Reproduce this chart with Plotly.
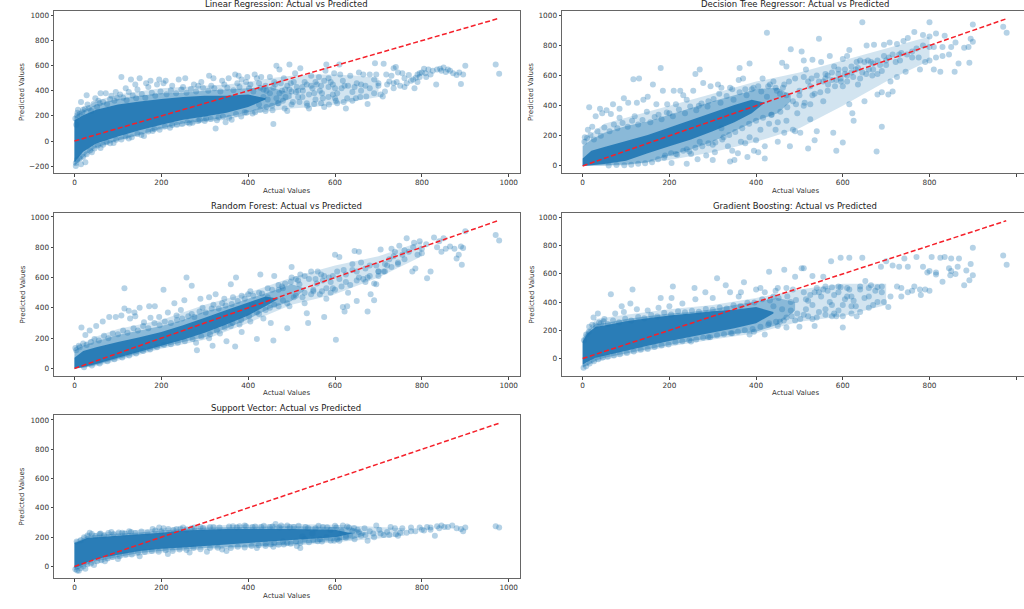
import plotly.graph_objects as go

W, H = 1024, 609
BLUE = "#1f77b4"
titles = ["Linear Regression: Actual vs Predicted", "Decision Tree Regressor: Actual vs Predicted",
          "Random Forest: Actual vs Predicted", "Gradient Boosting: Actual vs Predicted",
          "Support Vector: Actual vs Predicted"]
x_ticks = [0, 200, 400, 600, 800, 1000]
y_ticks_lr = [-200, 0, 200, 400, 600, 800, 1000]
y_ticks = [0, 200, 400, 600, 800, 1000]
ideal_line = [0, 977]

# Faint extent of each cloud: x, low, high
lr_cloud_x = [0, 50, 100, 200, 300, 350, 400, 450, 500, 550, 600, 650, 700]
lr_cloud_lo = [-200, -60, 0, 90, 150, 170, 210, 240, 260, 270, 290, 320, 350]
lr_cloud_hi = [205, 320, 370, 420, 440, 450, 470, 500, 520, 530, 530, 520, 500]
dt_cloud_x = [0, 50, 100, 200, 300, 400, 500, 600, 700, 800]
dt_cloud_lo = [0, 0, 5, 40, 90, 160, 250, 400, 560, 700]
dt_cloud_hi = [170, 280, 320, 400, 480, 560, 620, 700, 780, 860]
rf_cloud_x = [0, 50, 100, 200, 300, 400, 500, 600, 700, 800]
rf_cloud_lo = [0, 15, 50, 130, 190, 300, 420, 490, 600, 740]
rf_cloud_hi = [140, 210, 260, 320, 420, 500, 600, 680, 740, 840]
gb_cloud_x = [0, 30, 100, 200, 300, 400, 500, 600, 700]
gb_cloud_lo = [-65, -25, 25, 85, 135, 180, 260, 300, 380]
gb_cloud_hi = [160, 280, 310, 350, 380, 430, 490, 530, 530]
sv_cloud_x = [0, 30, 100, 200, 300, 400, 500, 600, 700, 760]
sv_cloud_lo = [-30, 5, 55, 95, 115, 125, 140, 165, 190, 210]
sv_cloud_hi = [175, 225, 240, 260, 280, 285, 290, 285, 270, 260]

# Dense regions of each cloud, read as envelopes: x, outer low/high, inner low/high
lr_band_x = [0, 10, 30, 50, 100, 150, 200, 250, 300, 350, 400, 450, 500]
lr_out_lo = [-195, -165, -95, -50, 5, 50, 100, 140, 160, 190, 230, 270, 340]
lr_out_hi = [195, 220, 260, 290, 335, 360, 380, 385, 400, 410, 420, 430, 380]
lr_in_x = [0, 20, 50, 100, 150, 200, 250, 300, 350, 400, 440]
lr_in_lo = [-170, -85, -20, 35, 85, 130, 170, 195, 225, 270, 330]
lr_in_hi = [165, 205, 250, 290, 315, 335, 350, 360, 360, 370, 340]

dt_band_x = [0, 20, 50, 100, 150, 200, 250, 300, 350, 400, 450, 480]
dt_out_lo = [0, 2, 5, 10, 25, 70, 110, 160, 230, 300, 350, 430]
dt_out_hi = [130, 175, 220, 265, 295, 340, 385, 430, 470, 510, 520, 470]
dt_in_x = [0, 20, 50, 100, 150, 200, 250, 300, 350, 390, 420]
dt_in_lo = [0, 5, 12, 35, 85, 130, 175, 230, 290, 350, 420]
dt_in_hi = [50, 100, 125, 165, 205, 255, 305, 355, 405, 440, 420]

rf_band_x = [0, 20, 50, 100, 150, 200, 250, 300, 350, 400, 450, 500, 530]
rf_out_lo = [0, 5, 22, 62, 100, 140, 175, 205, 265, 325, 395, 445, 520]
rf_out_hi = [120, 150, 180, 220, 250, 280, 320, 375, 410, 460, 505, 555, 530]
rf_in_x = [0, 20, 50, 100, 150, 200, 250, 300, 350, 400, 440, 470]
rf_in_lo = [0, 10, 30, 70, 110, 150, 190, 235, 290, 350, 410, 460]
rf_in_hi = [70, 115, 140, 175, 205, 240, 285, 335, 385, 435, 475, 460]

gb_band_x = [0, 10, 30, 50, 100, 150, 200, 250, 300, 350, 400, 450, 490]
gb_out_lo = [-60, -50, -15, 5, 35, 65, 95, 125, 145, 175, 190, 240, 340]
gb_out_hi = [140, 190, 245, 250, 280, 300, 320, 330, 350, 380, 405, 430, 400]
gb_in_x = [0, 10, 30, 50, 100, 150, 200, 250, 300, 350, 400, 440]
gb_in_lo = [-45, -25, 5, 20, 55, 90, 125, 155, 185, 215, 250, 320]
gb_in_hi = [120, 175, 225, 235, 265, 285, 305, 320, 335, 345, 365, 330]

sv_band_x = [0, 10, 30, 50, 100, 150, 200, 250, 300, 400, 500, 600, 640, 670]
sv_out_lo = [-25, -15, 15, 35, 65, 92, 105, 115, 125, 135, 150, 175, 185, 215]
sv_out_hi = [165, 175, 210, 215, 225, 232, 245, 255, 265, 270, 275, 270, 265, 230]
sv_in_x = [0, 10, 30, 50, 100, 150, 200, 250, 300, 350, 400, 500, 600, 640]
sv_in_lo = [-10, 0, 30, 50, 80, 105, 120, 130, 140, 150, 160, 180, 200, 225]
sv_in_hi = [160, 170, 195, 200, 210, 220, 230, 245, 250, 255, 255, 255, 250, 225]

# Individually visible points: (actual, predicted)
lr_points = [(970,610),(978,535),(900,600),(890,455),(895,530),(880,525),(886,545),(872,540),(860,570),(865,560),(850,585),(842,575),(835,570),(825,560),(833,450),(815,570),(805,575),(808,540),(800,545),(795,510),(790,530),(786,505),(783,420),(775,480),(770,525),(760,500),(755,540),(745,545),(735,580),(740,590),(730,520),(742,470),(712,615),(692,620),(725,475),(718,530),(710,355),(705,370),(700,440),(695,530),(690,490),(680,530),(675,295),(670,440),(665,530),(660,400),(655,545),(650,460),(648,340),(640,390),(635,520),(625,260),(628,340),(622,440),(618,480),(610,610),(612,530),(605,300),(600,420),(598,540),(595,370),(590,470),(585,500),(580,610),(578,560),(575,270),(572,340),(568,440),(563,510),(558,450),(552,380),(548,420),(545,520),(540,260),(535,300),(530,470),(526,400),(520,580),(515,350),(512,430),(508,540),(503,310),(498,460),(495,610),(490,240),(486,350),(482,500),(478,400),(472,570),(468,300),(465,600),(462,450),(458,135),(455,280),(450,510),(445,330),(440,240),(435,410),(430,510),(425,290),(420,500),(415,530),(410,220),(405,450),(398,510),(392,230),(385,490),(378,520),(370,530),(362,170),(355,500),(348,150),(340,480),(325,100),(332,190),(320,500),(310,520),(303,180),(292,470),(285,160),(275,450),(265,140),(255,500),(240,490),(225,130),(210,480),(195,490),(180,80),(175,480),(165,460),(150,500),(140,450),(130,490),(118,420),(108,510),(95,390),(85,360),(72,380),(60,380),(48,340),(28,365),(15,310),(20,250),(8,250),(6,205),(25,-170),(15,-185),(3,-200),(40,-90),(60,-55),(90,-15),(125,20),(160,40),(30,290),(55,320),(105,370),(125,390),(145,410),(170,430),(190,450),(205,460),(225,440),(250,430),(285,440),(315,440),(345,450),(375,460),(395,470),(425,460),(440,440),(460,470),(475,460),(490,440),(505,470),(515,400),(525,430),(535,450),(545,440),(555,470),(565,400),(575,480),(585,430),(595,450),(605,380),(615,420),(630,440),(645,430),(660,450),(680,420),(700,460),(720,450),(735,460),(750,440),(765,460),(780,490),(795,540),(810,510),(820,530),(845,560),(855,550),(435,350),(450,380),(465,340),(480,320),(495,410),(510,390),(525,350),(540,370),(555,330),(570,380),(585,350),(600,340),
(2,180),(4,130),(7,225),(12,215),(18,230),(24,255),(33,262),(38,240),(44,295),(52,270),(58,300),(66,310),(75,295),(82,335),(92,320),(98,345),(112,345),(120,325),(134,362),(142,340),(155,375),(163,345),(178,385),(186,360),(198,395),(212,372),(222,405),(234,380),(246,410),(258,385),(268,415),(280,395),(296,425),(308,400),(322,420),(336,395),(352,425),(366,405),(380,430),(402,420),(412,395),(428,425),(442,400),(458,425),(472,380),(485,410),(500,395),
(3,-175),(6,-150),(12,-140),(20,-125),(28,-105),(36,-75),(46,-60),(54,-35),(66,-30),(74,-10),(82,-18),(96,10),(108,12),(118,35),(132,30),(145,55),(154,48),(170,75),(184,95),(196,90),(208,115),(220,105),(236,130),(248,135),(260,150),(272,145),(288,170),(300,160),(314,175),(328,165),(342,195),(356,185),(372,215),(384,195),(396,225),(416,230),(428,250),(442,270),(456,245),(470,300),(484,260),(500,290),(518,310),(536,280),(552,295),(568,300),(586,290),(602,320),(620,310),(640,320),(658,350),(672,355),(690,380),(715,395),(735,420),(760,430),(790,470)]

dt_points = [(970,925),(978,885),(900,940),(895,845),(900,825),(892,685),(890,790),(880,785),(867,680),(860,820),(858,625),(850,790),(845,740),(835,865),(830,790),(825,625),(830,730),(815,880),(815,720),(810,640),(800,955),(800,860),(800,790),(800,700),(790,690),(785,800),(785,870),(778,640),(765,890),(760,760),(750,850),(745,625),(740,830),(735,750),(725,810),(725,590),(715,495),(710,560),(708,820),(705,475),(700,700),(695,805),(690,490),(690,260),(680,475),(678,95),(672,805),(670,680),(660,640),(655,800),(650,430),(645,955),(640,700),(635,540),(630,640),(625,300),(622,350),(615,770),(615,410),(610,730),(605,640),(600,710),(600,155),(595,580),(590,640),(585,100),(580,660),(578,220),(570,730),(565,500),(560,610),(555,430),(550,690),(545,845),(540,230),(535,170),(530,705),(528,580),(525,310),(520,115),(515,640),(510,700),(505,760),(502,220),(500,500),(495,350),(490,580),(485,240),(480,775),(478,130),(470,660),(465,220),(460,685),(455,480),(450,160),(445,240),(440,560),(435,340),(428,530),(425,885),(420,50),(420,130),(415,580),(405,90),(400,170),(395,100),(390,510),(385,680),(380,60),(375,150),(370,580),(362,650),(360,570),(358,85),(350,40),(345,510),(340,30),(335,130),(325,190),(320,520),(312,540),(305,90),(300,40),(295,530),(285,70),(278,550),(270,640),(265,45),(260,610),(255,500),(250,80),(240,15),(232,470),(225,500),(210,500),(205,20),(195,410),(180,650),(185,500),(170,410),(162,540),(150,460),(140,440),(130,580),(125,420),(117,575),(105,420),(95,450),(85,380),(70,410),(55,370),(40,380),(15,390),(30,330),(5,190),(12,240),(22,260),(45,350),(65,345),(85,320),(120,330),(148,360),(175,340),(200,350),(215,410),(240,440),(268,400),(290,430),(315,480),(340,520),(375,510),(405,530),(425,460),(445,520),(465,540),(470,470),(485,430),(500,470),(510,590),(525,530),(535,480),(545,560),(555,560),(565,600),(575,620),(585,570),(600,530),(610,600),(620,660),(632,690),(645,620),(658,700),(668,600),(680,610),(690,630),(700,670),(715,740),(722,690),(732,700),(748,740),(770,780),(345,100),(365,160),(385,190),(410,240),(430,280),(450,290),(470,300),(490,230),(510,400),(525,410),(300,140),(320,250),(270,160),(240,110),(215,80),(190,70),
(4,160),(10,185),(18,205),(26,175),(34,230),(42,200),(50,255),(62,230),(72,275),(80,250),(92,285),(104,260),(114,300),(128,275),(138,305),(156,290),(166,325),(182,310),(194,355),(208,330),(222,375),(236,350),(248,395),(262,370),(274,415),(288,395),(302,445),(318,420),(332,465),(348,440),(362,490),(378,470),(394,520),(412,495),(432,540),(448,500),(462,520),(476,560),
(60,2),(78,6),(96,4),(112,8),(128,14),(144,18),(160,24),(174,45),(188,55),(204,85),(218,75),(232,100),(246,95),(260,120),(276,130),(290,150),(306,155),(322,175),(338,205),(352,225),(368,250),(384,280),(400,300),(416,320),(436,340),(456,360),(472,390),(492,410),(512,420),(530,470),(548,490),(566,540),(582,530),(596,560),(610,560),(624,590),(640,580),(654,610),(670,640),(686,670),(706,720),(730,740),(775,720),(810,790),(760,720),(520,560),(540,600),(560,580),(575,570),(590,610),(605,610),(620,620),(635,650),(650,690),(665,690),(680,700),(695,730)]

rf_points = [(970,880),(978,845),(900,905),(895,795),(890,805),(892,685),(885,750),(880,725),(875,790),(865,805),(855,790),(850,860),(845,770),(835,800),(828,865),(820,640),(812,595),(800,790),(800,760),(795,840),(790,750),(785,660),(782,830),(778,640),(770,770),(765,860),(755,750),(748,810),(745,690),(738,770),(730,790),(725,720),(720,680),(712,640),(705,785),(700,610),(695,555),(690,450),(680,610),(682,490),(675,375),(670,660),(665,590),(655,770),(650,445),(645,775),(640,650),(635,550),(628,410),(622,375),(618,405),(610,735),(600,750),(602,190),(595,610),(590,500),(580,460),(575,340),(568,620),(558,560),(550,510),(538,300),(535,365),(530,430),(520,620),(510,590),(500,670),(495,410),(490,265),(480,530),(470,550),(460,610),(458,185),(452,300),(445,470),(435,330),(428,620),(420,195),(410,420),(400,490),(385,240),(372,600),(370,145),(360,555),(350,180),(345,460),(325,490),(318,150),(310,470),(290,460),(282,120),(270,545),(258,600),(253,450),(230,430),(205,520),(185,410),(172,410),(150,400),(138,370),(128,330),(115,530),(115,395),(95,340),(80,340),(65,310),(50,280),(35,250),(16,270),(25,220),(10,150),(2,135),(108,350),(125,380),(140,345),(160,305),(175,335),(195,340),(215,370),(235,350),(245,385),(270,360),(295,400),(320,420),(340,430),(365,470),(385,480),(405,510),(425,500),(445,530),(470,520),(485,560),(500,600),(515,580),(530,610),(545,640),(560,640),(575,610),(590,570),(605,640),(620,650),(640,690),(660,700),(680,680),(695,680),(715,690),(735,740),(760,780),(780,800),(810,820),(840,840),(280,170),(310,200),(335,230),(360,280),(380,290),(405,310),(425,360),(450,400),(470,410),(490,430),(510,480),(530,500),(550,520),(565,490),(580,530),(600,520),(615,540),(630,500),(655,600),(670,570),(690,560),
(4,120),(12,140),(20,165),(28,155),(38,175),(46,195),(56,185),(68,215),(78,200),(88,230),(100,225),(112,250),(122,235),(136,265),(146,250),(158,280),(170,265),(184,300),(196,285),(208,310),(222,300),(236,320),(248,330),(262,345),(276,340),(288,375),(302,370),(316,395),(332,395),(348,415),(362,425),(376,445),(392,460),(412,480),(432,495),(455,520),(478,540),(498,570),(518,555),(540,590),(555,590),(572,580),(586,600),(610,590),(625,620),(650,640),
(22,8),(40,20),(58,32),(76,48),(92,60),(110,72),(126,85),(142,98),(158,115),(174,125),(190,140),(206,155),(222,160),(238,170),(254,180),(272,195),(292,210),(312,225),(328,250),(346,270),(364,300),(384,320),(402,345),(420,370),(440,385),(460,420),(480,450),(505,470),(525,470),(545,490),(570,510),(595,530),(625,570),(650,580),(675,600),(700,640),(730,670),(760,720),(700,640),(715,640),(745,700)]

gb_points = [(970,730),(978,665),(900,785),(900,590),(895,670),(892,555),(885,625),(880,520),(868,710),(860,600),(850,710),(848,590),(845,640),(835,720),(830,545),(825,715),(815,595),(805,720),(800,480),(795,610),(785,650),(780,450),(778,490),(770,720),(765,510),(750,650),(742,710),(735,500),(730,650),(715,660),(705,365),(700,690),(695,400),(688,650),(680,505),(670,380),(660,440),(652,550),(645,715),(640,490),(632,300),(625,410),(615,715),(610,440),(600,220),(595,715),(590,510),(585,300),(575,300),(573,690),(565,480),(555,580),(545,470),(535,230),(530,585),(520,410),(510,640),(505,640),(500,225),(490,580),(480,340),(470,220),(465,630),(455,260),(445,480),(430,615),(420,170),(410,500),(395,190),(385,170),(372,540),(365,470),(345,180),(330,520),(310,570),(290,150),(283,470),(258,500),(250,120),(208,510),(205,430),(180,430),(115,490),(110,390),(65,455),(90,370),(50,280),(35,320),(25,290),(15,225),(42,250),(75,320),(95,330),(125,350),(150,340),(175,360),(200,370),(230,390),(260,420),(300,430),(340,470),(360,440),(400,490),(420,470),(440,440),(450,500),(470,500),(485,490),(510,470),(525,450),(540,500),(550,440),(560,510),(570,400),(580,450),(590,470),(600,380),(610,500),(620,440),(630,370),(650,430),(665,520),(675,480),(690,510),(710,440),(725,510),(750,470),(760,480),(790,490),(800,620),(815,610),(850,620),(865,650),(440,370),(460,350),(480,400),(495,320),(515,350),(530,380),(545,330),(560,350),(575,380),(590,340),(605,420),(620,370),(430,250),(450,230),(470,290),(490,270),(510,310),(530,280),
(3,130),(8,170),(14,190),(22,240),(30,235),(38,255),(48,262),(58,245),(70,270),(84,258),(98,282),(112,270),(128,295),(142,285),(158,308),(172,298),(188,325),(204,312),(220,335),(236,328),(252,338),(268,332),(284,352),(300,345),(316,362),(332,355),(348,378),(364,372),(380,395),(396,398),(414,420),(432,412),(452,430),(472,440),(492,415),(515,420),(535,470),(555,490),(575,505),(595,505),(615,490),(640,510),(660,500),(690,470),(735,440),
(2,-65),(8,-55),(16,-35),(26,-20),(36,-5),(46,8),(58,12),(72,22),(86,30),(102,40),(118,50),(134,62),(150,68),(166,82),(182,92),(198,100),(214,115),(230,122),(246,130),(262,135),(278,148),(294,150),(310,165),(326,172),(342,180),(358,190),(374,200),(392,210),(410,225),(428,240),(446,260),(464,270),(482,300),(502,280),(520,300),(540,290),(560,310),(580,320),(600,300),(620,320),(640,330),(660,360),(680,400)]

sv_points = [(970,275),(978,265),(900,265),(895,240),(890,255),(880,260),(870,280),(860,270),(852,270),(845,280),(835,275),(830,210),(820,250),(812,270),(805,245),(795,265),(785,240),(775,265),(765,230),(755,260),(745,210),(738,260),(728,270),(720,235),(712,215),(702,250),(695,280),(688,225),(680,240),(675,175),(668,260),(660,210),(652,250),(645,185),(640,240),(632,265),(625,210),(618,280),(610,195),(603,265),(598,175),(590,250),(580,200),(572,270),(565,185),(555,260),(548,225),(540,165),(532,270),(525,205),(520,125),(512,140),(505,270),(498,155),(490,280),(482,150),(472,265),(463,290),(458,135),(450,270),(440,140),(430,270),(420,125),(410,270),(395,275),(380,275),(365,275),(350,105),(340,115),(320,270),(305,100),(290,270),(270,260),(250,265),(235,255),(195,265),(180,255),(205,260),(130,235),(110,230),(85,235),(60,225),(35,230),(45,10),(25,-15),(10,-30),(70,35),(100,50),(150,70),(215,85),(265,95),(615,240),(635,215),(655,235),(670,215),(690,200),(705,225),(725,215),(740,220),(750,230),(775,240),(800,250),(820,265),(840,260),(510,170),(530,185),(550,180),(570,170),(590,175),(610,175),(460,160),(480,170),(440,155),
(5,170),(14,178),(22,200),(30,212),(40,222),(48,208),(58,222),(68,212),(78,228),(90,220),(102,232),(116,225),(126,240),(140,228),(154,238),(168,232),(186,245),(200,238),(216,255),(228,248),(244,258),(258,252),(276,265),(296,262),(312,270),(334,265),(356,272),(374,268),(392,280),(416,272),(436,278),(456,272),(476,280),(496,268),(516,278),(538,262),(562,278),(582,268),(600,278),(628,272),(644,262),
(2,-20),(6,-28),(14,-12),(20,0),(30,15),(38,20),(52,35),(62,42),(76,55),(88,65),(104,70),(118,80),(132,82),(146,95),(162,98),(178,105),(194,100),(210,110),(226,105),(242,115),(258,112),(274,125),(290,118),(312,125),(330,128),(360,125),(376,135),(392,130),(408,140),(424,145),(452,150),(470,148),(490,160),(520,160),(560,172),(605,185),(625,195)]


def poly(xs, lo, hi):
    return list(xs) + list(xs)[::-1], list(hi) + list(lo)[::-1]

panels = [
    dict(pts=lr_points, cloud=(lr_cloud_x, lr_cloud_lo, lr_cloud_hi), band=(lr_band_x, lr_out_lo, lr_out_hi), core=(lr_in_x, lr_in_lo, lr_in_hi),
         px=(54, 520), py=(11, 173), xr=(-47.2, 1026), yr=(-255, 1036), yt=y_ticks_lr, tx=286, ty=4, lx=22, ly=191),
    dict(pts=dt_points, cloud=(dt_cloud_x, dt_cloud_lo, dt_cloud_hi), band=(dt_band_x, dt_out_lo, dt_out_hi), core=(dt_in_x, dt_in_lo, dt_in_hi),
         px=(562, 1024), py=(11, 173), xr=(-47.7, 1018), yr=(-47, 1029), yt=y_ticks, tx=795, ty=4, lx=531, ly=191),
    dict(pts=rf_points, cloud=(rf_cloud_x, rf_cloud_lo, rf_cloud_hi), band=(rf_band_x, rf_out_lo, rf_out_hi), core=(rf_in_x, rf_in_lo, rf_in_hi),
         px=(54, 520), py=(213, 376), xr=(-47.2, 1026), yr=(-50, 1026), yt=y_ticks, tx=286, ty=206, lx=22, ly=393),
    dict(pts=gb_points, cloud=(gb_cloud_x, gb_cloud_lo, gb_cloud_hi), band=(gb_band_x, gb_out_lo, gb_out_hi), core=(gb_in_x, gb_in_lo, gb_in_hi),
         px=(562, 1024), py=(213, 376), xr=(-47.7, 1018), yr=(-124, 1032), yt=y_ticks, tx=795, ty=206, lx=531, ly=393),
    dict(pts=sv_points, cloud=(sv_cloud_x, sv_cloud_lo, sv_cloud_hi), band=(sv_band_x, sv_out_lo, sv_out_hi), core=(sv_in_x, sv_in_lo, sv_in_hi),
         px=(54, 520), py=(415, 578), xr=(-47.2, 1026), yr=(-79, 1034), yt=y_ticks, tx=286, ty=408, lx=22, ly=596),
]

FONT = "DejaVu Sans"
fig = go.Figure()
layout = dict(width=W, height=H, margin=dict(l=0, r=0, t=0, b=0), paper_bgcolor="white", plot_bgcolor="white",
              showlegend=False, font=dict(family=FONT, size=7, color="#333333"), annotations=[])

for i, p in enumerate(panels):
    n = "" if i == 0 else str(i + 1)
    xref, yref = "x" + n, "y" + n
    for key, alpha in (("cloud", 0.2), ("band", 0.4), ("core", 0.9)):
        fx, fy = poly(*p[key])
        fig.add_trace(go.Scatter(x=fx, y=fy, fill="toself", mode="none", fillcolor=f"rgba(31,119,180,{alpha})",
                                 xaxis=xref, yaxis=yref, hoverinfo="skip"))
    fig.add_trace(go.Scatter(x=[a for a, _ in p["pts"]], y=[b for _, b in p["pts"]], mode="markers",
                             marker=dict(size=6, color=BLUE, opacity=0.33, line=dict(width=0)), xaxis=xref, yaxis=yref))
    fig.add_trace(go.Scatter(x=ideal_line, y=ideal_line, mode="lines", line=dict(color="#f5202a", width=1.5, dash="5px,2.5px"), xaxis=xref, yaxis=yref))
    common = dict(showgrid=False, zeroline=False, showline=True, mirror=True, linecolor="#666666", linewidth=1,
                  ticks="outside", ticklen=2.5, tickwidth=0.7, tickcolor="#444444", tickfont=dict(family=FONT, size=7.3, color="#333333"))
    layout["xaxis" + n] = dict(domain=[p["px"][0] / W, p["px"][1] / W], range=list(p["xr"]), tickmode="array", tickvals=x_ticks,
                               anchor=yref, **common)
    layout["yaxis" + n] = dict(domain=[1 - p["py"][1] / H, 1 - p["py"][0] / H], range=list(p["yr"]), tickmode="array", tickvals=p["yt"],
                               ticktext=[str(v).replace("-", "\u2212") for v in p["yt"]], anchor=xref, **common)
    mid_y = (p["py"][0] + p["py"][1]) / 2
    ann = dict(xref="paper", yref="paper", showarrow=False, xanchor="center", yanchor="middle")
    layout["annotations"] += [
        dict(text=titles[i], x=p["tx"] / W, y=1 - p["ty"] / H, font=dict(family=FONT, size=8.5, color="#222222"), **ann),
        dict(text="Actual Values", x=p["tx"] / W, y=1 - p["ly"] / H, font=dict(family=FONT, size=7, color="#333333"), **ann),
        dict(text="Predicted Values", x=p["lx"] / W, y=1 - mid_y / H, textangle=-90, font=dict(family=FONT, size=7, color="#333333"), **ann),
    ]

fig.update_layout(**layout)
fig.write_html("out.html", config={"displayModeBar": False},
               post_script="document.body.style.margin='0';document.body.style.overflow='hidden';")
